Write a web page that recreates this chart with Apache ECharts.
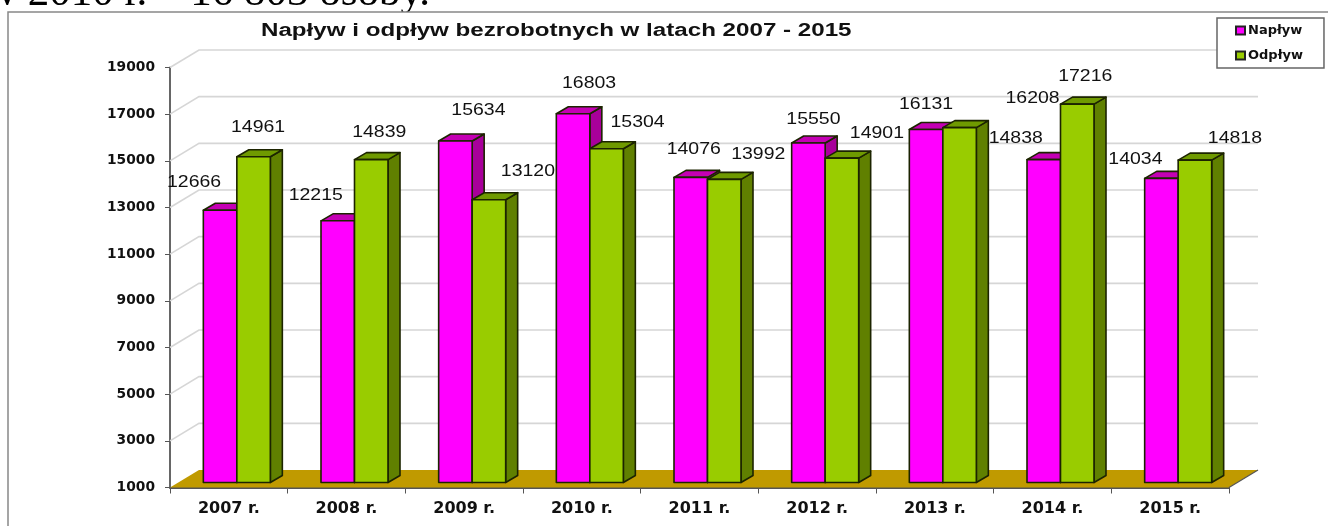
<!DOCTYPE html>
<html><head><meta charset="utf-8">
<style>html,body{margin:0;padding:0;background:#fff}#c{width:1328px;height:526px}</style>
<script src="https://cdn.jsdelivr.net/npm/echarts@6/dist/echarts.min.js"></script>
</head><body><div id="c"></div>
<script>
const categories = ['2007 r.','2008 r.','2009 r.','2010 r.','2011 r.','2012 r.','2013 r.','2014 r.','2015 r.'];
const naplyw = [12666,12215,15634,16803,14076,15550,16131,14838,14034];
const odplyw = [14961,14839,13120,15304,13992,14901,16208,17216,14818];
const yTicks = [1000,3000,5000,7000,9000,11000,13000,15000,17000,19000];
const titleText = 'Napływ i odpływ bezrobotnych w latach 2007 - 2015';
const clippedLine = 'w 2010 r. – 16 803 osoby.';

// label placement relative to each bar's top centre (style, not data)
const naplywLabelDx = [-26,-22,23,16,3,5,0,-28,-26];
const naplywLabelDy = [-28,-25,-31,-30,-28,-24,-25,-21,-19];
const odplywLabelDx = [4.5,8,39,31,34,35,73,8,40];
const odplywLabelDy = [-29,-27,-28,-26,-25,-25,-29,-28,-22];

const wallDX = 29, wallDY = -17.5, barLift = 5, barShift = 8, barW = 33.5, sideDX = 12, sideDY = -7;
const edge = '#1c2400';

function poly(pts, fill){
  return {type:'polygon', shape:{points:pts}, style:{fill, stroke:edge, lineWidth:1.6, lineJoin:'round'}};
}
function barRender(side, front, sideCol, topCol, dxs, dys){
  return function(params, api){
    const i = api.value(0), v = api.value(1);
    const base = api.coord([i, yTicks[0]]), top = api.coord([i, v]);
    const x0 = base[0] + barShift + (side < 0 ? -barW : 0), x1 = x0 + barW;
    const yB = base[1] - barLift, yT = top[1] - barLift;
    return {type:'group', children:[
      poly([[x1,yT],[x1+sideDX,yT+sideDY],[x1+sideDX,yB+sideDY],[x1,yB]], sideCol),
      poly([[x0,yT],[x0+sideDX,yT+sideDY],[x1+sideDX,yT+sideDY],[x1,yT]], topCol),
      poly([[x0,yT],[x1,yT],[x1,yB],[x0,yB]], front),
      {type:'text', x:(x0+x1)/2+dxs[params.dataIndex], y:yT+dys[params.dataIndex], scaleX:1.18, z2:50,
       style:{text:String(v), fill:'#111', font:'16.5px "Liberation Sans"', textAlign:'center', textVerticalAlign:'middle'}}
    ]};
  };
}
function wallRender(params, api){
  const v = api.value(0);
  const c = api.coord([0, v]);
  const band = api.size([1,0])[0];
  const xL = c[0]-band/2, xR = xL + band*categories.length;
  if (v === yTicks[0]) {
    return {type:'group', children:[
      {type:'polygon', shape:{points:[[xL,c[1]],[xL+wallDX,c[1]+wallDY],[xR+wallDX,c[1]+wallDY],[xR,c[1]]]}, style:{fill:'#C09A00'}},
      {type:'line', shape:{x1:xR,y1:c[1],x2:xR+wallDX,y2:c[1]+wallDY}, style:{stroke:'#555', lineWidth:1.2}}
    ]};
  }
  return {type:'polyline', shape:{points:[[xL,c[1]],[xL+wallDX,c[1]+wallDY],[xR+wallDX,c[1]+wallDY]]},
    style:{stroke:'#d6d6d6', lineWidth:1.6, fill:null}};
}
const chart = echarts.init(document.getElementById('c'), null, {renderer:'canvas'});
chart.setOption({
  animation:false,
  backgroundColor:'#fff',
  legend:{data:['Napływ','Odpływ'], orient:'vertical', left:1217, top:18, padding:[6,21,6,18], itemGap:12,
    itemWidth:9, itemHeight:8, backgroundColor:'#fff', borderColor:'#666', borderWidth:1.5,
    icon:'rect', textStyle:{fontFamily:'DejaVu Sans', fontWeight:'bold', fontSize:13, color:'#111', padding:[0,0,0,-2]}},
  grid:{left:170, right:99, top:67.5, bottom:38.5},
  xAxis:{type:'category', data:categories, boundaryGap:true,
    axisLine:{lineStyle:{color:'#555', width:2}},
    axisTick:{show:true, length:6, lineStyle:{color:'#555'}},
    axisLabel:{fontFamily:'DejaVu Sans', fontWeight:'bold', fontSize:16, color:'#111', margin:13}},
  yAxis:{type:'value', min:1000, max:19000,
    axisLine:{show:true, lineStyle:{color:'#666', width:2}},
    axisTick:{show:true, length:5, customValues:yTicks, lineStyle:{color:'#555'}},
    axisLabel:{customValues:yTicks, formatter:v=>String(v), fontFamily:'DejaVu Sans', fontWeight:'bold', fontSize:13.8, color:'#111', margin:15, padding:[3,0,0,0]},
    splitLine:{show:false}},
  graphic:[
    {type:'text', silent:true, z:-2, x:-14, y:15, style:{text:clippedLine, fill:'#000', font:'43px "Liberation Serif"', textVerticalAlign:'bottom'}},
    {type:'rect', silent:true, z:-1, shape:{x:8,y:12,width:1400,height:600}, style:{fill:'#fff', stroke:'#888', lineWidth:1.5}},
    {type:'text', silent:true, z:10, x:261, y:31, scaleX:1.38, style:{text:titleText, fill:'#111', font:'bold 17.5px "Liberation Sans"', textVerticalAlign:'middle'}}
  ],
  series:[
    {type:'custom', silent:true, z:1, data:yTicks.map(v=>[v]), encode:{y:0}, renderItem:wallRender, clip:false},
    {type:'custom', name:'Napływ', z:2, clip:false, itemStyle:{color:'#FF00FF', borderColor:'#222', borderWidth:1.5},
     data:naplyw.map((v,i)=>[i,v]), encode:{x:0,y:1},
     renderItem:barRender(-1,'#FF00FF','#A8009A','#C400B4',naplywLabelDx,naplywLabelDy)},
    {type:'custom', name:'Odpływ', z:3, clip:false, itemStyle:{color:'#99CC00', borderColor:'#222', borderWidth:1.5},
     data:odplyw.map((v,i)=>[i,v]), encode:{x:0,y:1},
     renderItem:barRender(1,'#99CC00','#608000','#6F9A00',odplywLabelDx,odplywLabelDy)}
  ]
});
</script></body></html>
